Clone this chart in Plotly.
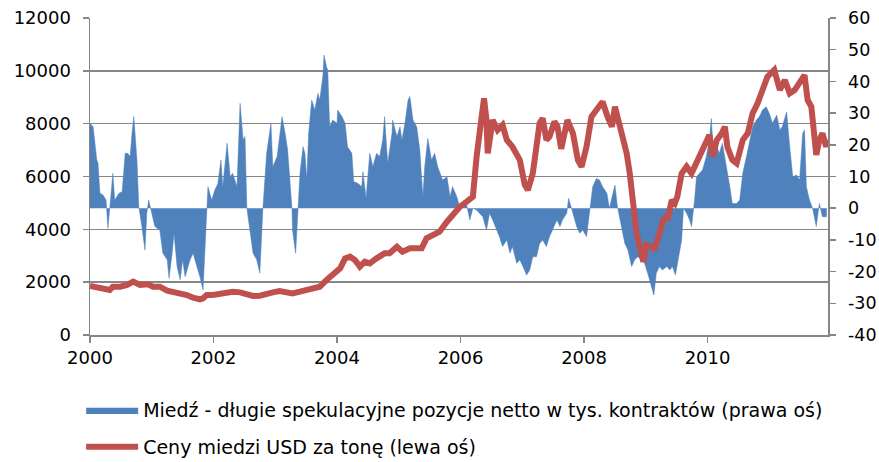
import plotly.graph_objects as go

# --- Data ---
# Net speculative long positions, thousand contracts (right axis)
pos_t = [2000.00, 2000.05, 2000.11, 2000.13, 2000.16, 2000.21, 2000.26, 2000.29, 2000.32, 2000.37,
         2000.40, 2000.44, 2000.47, 2000.52, 2000.57, 2000.61, 2000.65, 2000.68, 2000.71, 2000.76,
         2000.79, 2000.84, 2000.89, 2000.92, 2000.95, 2001.00, 2001.05, 2001.13, 2001.18, 2001.25,
         2001.28, 2001.33, 2001.36, 2001.41, 2001.46, 2001.50, 2001.54, 2001.62, 2001.67, 2001.73,
         2001.78, 2001.83, 2001.88, 2001.91, 2001.97, 2002.02, 2002.07, 2002.12, 2002.15, 2002.22,
         2002.27, 2002.31, 2002.38, 2002.43, 2002.48, 2002.51, 2002.54, 2002.59, 2002.64, 2002.70,
         2002.75, 2002.80, 2002.86, 2002.93, 2002.96, 2003.03, 2003.11, 2003.16, 2003.20, 2003.27,
         2003.28, 2003.33, 2003.37, 2003.40, 2003.45, 2003.48, 2003.51, 2003.54, 2003.59, 2003.64,
         2003.69, 2003.72, 2003.77, 2003.79, 2003.83, 2003.85, 2003.88, 2003.93, 2004.00, 2004.01,
         2004.08, 2004.13, 2004.17, 2004.24, 2004.27, 2004.34, 2004.40, 2004.42, 2004.47, 2004.53,
         2004.58, 2004.64, 2004.69, 2004.74, 2004.77, 2004.82, 2004.89, 2004.90, 2004.97, 2005.02,
         2005.05, 2005.10, 2005.15, 2005.18, 2005.23, 2005.29, 2005.34, 2005.39, 2005.42, 2005.47,
         2005.53, 2005.58, 2005.63, 2005.71, 2005.78, 2005.83, 2005.87, 2005.94, 2005.99, 2006.10,
         2006.15, 2006.20, 2006.26, 2006.31, 2006.36, 2006.42, 2006.47, 2006.52, 2006.59, 2006.63,
         2006.68, 2006.75, 2006.80, 2006.84, 2006.91, 2006.96, 2007.01, 2007.07, 2007.12, 2007.17,
         2007.23, 2007.28, 2007.33, 2007.39, 2007.44, 2007.49, 2007.56, 2007.61, 2007.65, 2007.72,
         2007.75, 2007.82, 2007.88, 2007.93, 2007.98, 2008.04, 2008.09, 2008.14, 2008.20, 2008.25,
         2008.30, 2008.37, 2008.41, 2008.46, 2008.50, 2008.54, 2008.61, 2008.66, 2008.71, 2008.77,
         2008.82, 2008.87, 2008.93, 2008.98, 2009.03, 2009.09, 2009.13, 2009.17, 2009.22, 2009.27,
         2009.34, 2009.39, 2009.43, 2009.48, 2009.51, 2009.58, 2009.61, 2009.66, 2009.71, 2009.74,
         2009.79, 2009.82, 2009.87, 2009.92, 2009.98, 2010.03, 2010.06, 2010.10, 2010.15, 2010.19,
         2010.24, 2010.31, 2010.36, 2010.40, 2010.47, 2010.52, 2010.57, 2010.63, 2010.68, 2010.73,
         2010.79, 2010.84, 2010.89, 2010.95, 2011.00, 2011.05, 2011.12, 2011.17, 2011.21, 2011.28,
         2011.33, 2011.38, 2011.44, 2011.49, 2011.54, 2011.57, 2011.60, 2011.65, 2011.70, 2011.76,
         2011.81, 2011.86, 2011.93]
pos_v = [26.8, 25.7, 15.2, 14.2, 4.7, 4.2, 2.6, -6.4, 0.0, 11.0,
         2.6, 3.6, 4.7, 5.2, 17.3, 17.3, 16.3, 23.6, 28.9, 15.2,
         0.5, -5.8, -13.2, -1.6, 2.6, -1.6, -5.8, -6.9, -14.2, -16.3,
         -22.1, -14.2, -7.9, -18.4, -22.6, -16.3, -21.6, -16.3, -14.2, -18.4,
         -21.6, -25.8, -2.7, 6.8, 2.6, 5.7, 7.8, 15.2, 6.8, 20.5,
         9.9, 11.0, 6.8, 33.1, 21.5, 22.6, 0.0, -7.9, -14.2, -16.3,
         -20.5, 0.0, 17.3, 26.8, 13.1, 16.3, 28.9, 23.6, 18.4, 0.0,
         -7.0, -14.2, 0.0, 11.0, 19.4, 17.3, 8.9, 23.6, 34.1, 31.0,
         36.2, 34.1, 41.5, 48.3, 44.6, 43.6, 25.7, 27.8, 26.8, 31.0,
         28.9, 26.8, 19.4, 17.3, 8.4, 7.8, 6.8, 11.5, 3.1, 17.3,
         13.1, 17.3, 16.3, 21.5, 28.9, 14.2, 23.6, 27.8, 22.6, 25.7,
         21.5, 26.8, 34.1, 35.2, 27.8, 25.7, 18.4, 3.6, 13.1, 22.0,
         15.2, 17.3, 13.1, 8.9, 9.9, 3.6, 6.8, 3.6, 0.0, 1.0,
         -3.7, 0.0, -0.6, -1.6, -2.7, -6.9, -1.6, -3.7, -6.9, -9.0,
         -12.1, -10.0, -14.2, -12.1, -17.4, -16.3, -18.4, -21.1, -19.5, -15.3,
         -15.3, -11.1, -10.0, -12.1, -9.0, -6.9, -3.7, -5.8, -3.7, -1.6,
         3.1, -1.6, -5.8, -7.9, -6.9, -9.0, 0.0, 6.8, 9.4, 8.9,
         6.8, 4.7, 0.0, 3.6, 7.3, 0.5, -5.8, -11.1, -13.2, -18.4,
         -16.3, -15.3, -16.3, -17.4, -20.5, -24.8, -27.4, -20.5, -18.4, -19.5,
         -18.4, -19.5, -18.4, -21.1, -17.4, -10.0, 0.0, -1.6, -3.7, -5.8,
         2.6, 9.9, 11.0, 12.1, 16.3, 21.5, 28.3, 16.3, 19.4, 17.3,
         20.5, 13.1, 6.8, 1.5, 1.5, 2.6, 11.0, 16.3, 21.5, 25.7,
         27.8, 28.9, 31.0, 32.0, 29.9, 26.8, 29.4, 24.7, 25.7, 30.4,
         19.4, 9.9, 10.5, 8.9, 23.6, 24.7, 6.8, 2.6, 0.0, -5.8,
         1.5, -2.7, -2.7]

# Copper price, USD per tonne (left axis)
price_t = [2000.00, 2000.16, 2000.32, 2000.37, 2000.49, 2000.60, 2000.70, 2000.81, 2000.94, 2001.02,
           2001.13, 2001.25, 2001.34, 2001.46, 2001.57, 2001.67, 2001.78, 2001.83, 2001.89, 2001.99,
           2002.10, 2002.22, 2002.31, 2002.43, 2002.54, 2002.64, 2002.75, 2002.86, 2002.96, 2003.07,
           2003.24, 2003.28, 2003.40, 2003.61, 2003.72, 2003.83, 2003.93, 2004.05, 2004.13, 2004.21,
           2004.29, 2004.37, 2004.45, 2004.53, 2004.64, 2004.77, 2004.85, 2004.97, 2005.06, 2005.18,
           2005.29, 2005.37, 2005.45, 2005.55, 2005.66, 2005.78, 2005.87, 2005.99, 2006.10, 2006.20,
           2006.26, 2006.31, 2006.38, 2006.42, 2006.44, 2006.52, 2006.60, 2006.68, 2006.75, 2006.84,
           2006.96, 2007.04, 2007.09, 2007.17, 2007.23, 2007.28, 2007.33, 2007.39, 2007.44, 2007.52,
           2007.57, 2007.63, 2007.73, 2007.82, 2007.90, 2007.96, 2008.04, 2008.12, 2008.20, 2008.30,
           2008.38, 2008.45, 2008.50, 2008.54, 2008.61, 2008.69, 2008.74, 2008.79, 2008.85, 2008.90,
           2008.96, 2009.01, 2009.09, 2009.14, 2009.19, 2009.26, 2009.30, 2009.35, 2009.42, 2009.47,
           2009.51, 2009.58, 2009.66, 2009.74, 2009.82, 2009.90, 2009.98, 2010.03, 2010.08, 2010.15,
           2010.23, 2010.28, 2010.32, 2010.40, 2010.47, 2010.52, 2010.57, 2010.65, 2010.73, 2010.81,
           2010.89, 2010.97, 2011.08, 2011.17, 2011.25, 2011.33, 2011.41, 2011.49, 2011.57, 2011.62,
           2011.68, 2011.73, 2011.76, 2011.81, 2011.86, 2011.92, 2011.95]
price_v = [1855, 1766, 1703, 1829, 1829, 1893, 2019, 1893, 1918, 1829,
           1829, 1678, 1640, 1577, 1514, 1413, 1350, 1388, 1514, 1514,
           1577, 1602, 1640, 1615, 1514, 1476, 1489, 1577, 1615, 1665,
           1615, 1577, 1640, 1766, 1829, 2082, 2271, 2523, 2902, 2965,
           2839, 2586, 2776, 2713, 2902, 3091, 3091, 3343, 3154, 3280,
           3280, 3280, 3659, 3785, 3911, 4290, 4542, 4858, 5047, 5236,
           6750, 7633, 8958, 8138, 6876, 8138, 7759, 7949, 7381, 7129,
           6624, 5678, 5488, 6119, 7002, 8012, 8201, 7381, 7507, 8075,
           7886, 7050, 8138, 7633, 6624, 6372, 7129, 8264, 8516, 8832,
           8264, 7886, 8643, 8264, 7633, 6876, 6119, 4858, 3848, 3343,
           2776, 3407, 3343, 3217, 3596, 4101, 4479, 4353, 5110, 4984,
           5236, 6119, 6372, 6119, 6498, 7002, 7255, 7570, 6750, 7381,
           7633, 7886, 7129, 6624, 6498, 6876, 7381, 7633, 8390, 8769,
           9273, 9778, 10030, 9273, 9652, 9147, 9273, 9526, 9841, 8895,
           8643, 7507, 6813, 7381, 7633, 7129, 7400]

# Axis ticks
x_ticks = [2000, 2002, 2004, 2006, 2008, 2010]
left_ticks = [0, 2000, 4000, 6000, 8000, 10000, 12000]
right_ticks = [-40, -30, -20, -10, 0, 10, 20, 30, 40, 50, 60]

name_pos = "Miedź - długie spekulacyjne pozycje netto w tys. kontraktów (prawa oś)"
name_price = "Ceny miedzi USD za tonę (lewa oś)"

FONT = "DejaVu Sans"
AX = "#868686"

fig = go.Figure()
fig.add_trace(go.Scatter(
    x=pos_t, y=pos_v, yaxis="y", mode="lines", fill="tozeroy",
    line=dict(color="#4F81BD", width=0.5), fillcolor="#4F81BD",
    name=name_pos, legendgroup="a", hoverinfo="skip"))
fig.add_trace(go.Scatter(
    x=price_t, y=price_v, yaxis="y2", mode="lines",
    line=dict(color="#C0504D", width=6),
    name=name_price, legendgroup="b", hoverinfo="skip"))

fig.update_layout(
    width=879, height=462,
    margin=dict(l=90, r=51, t=18, b=127, autoexpand=False),
    paper_bgcolor="white", plot_bgcolor="white",
    font=dict(family=FONT, size=18, color="#000000"),
    xaxis=dict(range=[2000, 2011.95], tickvals=x_ticks, ticktext=[str(v) for v in x_ticks],
               ticks="outside", ticklen=6, tickcolor=AX, tickwidth=1.5,
               showline=True, linecolor=AX, linewidth=1.5, showgrid=False, zeroline=False,
               automargin=False, tickfont=dict(family=FONT, size=18)),
    yaxis=dict(range=[-40, 60], tickvals=right_ticks, ticktext=[str(v) for v in right_ticks],
               side="right", ticks="outside", ticklen=6, tickcolor=AX, tickwidth=1.5,
               showline=True, linecolor=AX, linewidth=1.5, showgrid=False, zeroline=False,
               automargin=False, ticklabelstandoff=9, tickfont=dict(family=FONT, size=17.5)),
    yaxis2=dict(range=[0, 12000], tickvals=left_ticks, ticktext=[str(v) for v in left_ticks],
                side="left", overlaying="y", ticks="outside", ticklen=6, tickcolor=AX, tickwidth=1.5,
                showline=True, linecolor=AX, linewidth=1.5, showgrid=True, gridcolor=AX,
                gridwidth=1.5, zeroline=False, ticklabelstandoff=8, automargin=False,
                tickfont=dict(family=FONT, size=18)),
    showlegend=True,
    legend=dict(orientation="v", x=-0.012, xanchor="left", y=-0.177, yanchor="top",
                font=dict(family=FONT, size=19), tracegroupgap=9, itemwidth=52,
                bgcolor="rgba(0,0,0,0)"),
)

fig.write_html("out.html", config={"displayModeBar": False, "staticPlot": True},
               post_script="document.body.style.margin='0';document.body.style.padding='0';")
